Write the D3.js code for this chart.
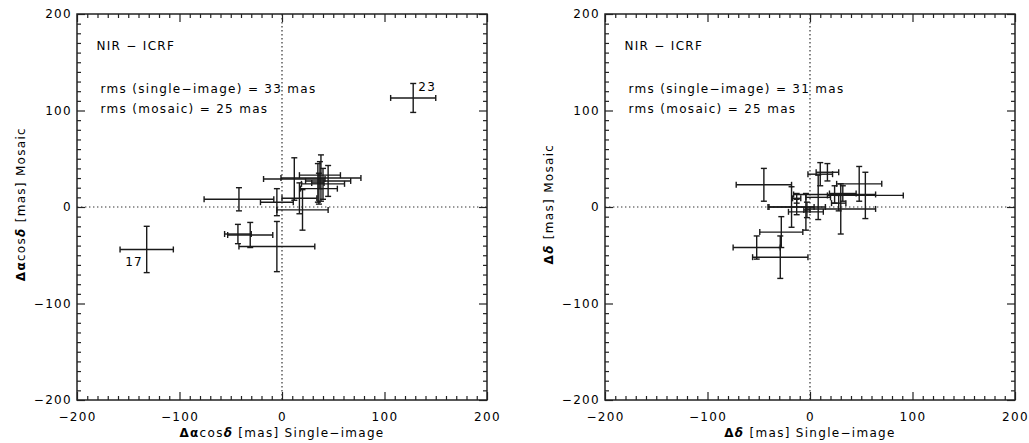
<!DOCTYPE html>
<html>
<head>
<meta charset="utf-8">
<script src="https://cdn.jsdelivr.net/npm/d3@7"></script>
<style>
  body { margin: 0; background: #fff; }
  text { font-family: "DejaVu Sans", sans-serif; font-size: 12px; letter-spacing: 1.3px; fill: #000; }
</style>
</head>
<body>
<div id="chart"></div>
<script>
// left panel: delta alpha cos delta, mosaic vs single-image (mas)
let leftX    = [128, -132, -42, -43, -31,  -5,  20, 17, -5, 12, 38, 37, 45, 40, 36, 35];
let leftY    = [113,  -44,   8, -28, -29, -41,  -3,  9,  5, 29, 30, 33, 27, 24, 19, 25];
let leftXErr = [ 22,   26,  34,  13,  22,  37,  25, 17, 16, 30, 39, 20, 22, 21, 18,  6];
let leftYErr = [ 15,   24,  12,  10,  13,  26,  21, 16, 14, 22, 24, 14, 16, 16, 16, 20];

// right panel: delta delta
let rightX    = [-45, -18, -28, -29, -52, -4, -13, 30, 48, 54, 10, 17,  8, 24, 32, 28, -13, -3];
let rightY    = [ 23,   0, -26, -52, -42, -5,   9, -2, 24, 12, 34, 36, 10, 13, 14,  4,   0, -3];
let rightXErr = [ 27,  22,  21,  27,  23, 17,   4, 34, 22, 37, 12, 11, 12, 40, 13,  7,  28,  3];
let rightYErr = [ 17,  21,  16,  22,  12, 19,   5, 26, 18, 24, 12,  9, 23,  9,  8,  8,   8,  8];

let majorTicks = [-200, -100, 0, 100, 200];
let minorTicks = d3.range(-200, 201, 10).filter(v => v % 100 !== 0);

// labelled sources: [text, x, y]
let leftNotes  = [["23", 133, 120], ["17", -153, -61]];
let rightNotes = [];

let leftText  = ["NIR − ICRF", "rms (single−image) = 33 mas", "rms (mosaic) = 25 mas"];
let rightText = ["NIR − ICRF", "rms (single−image) = 31 mas", "rms (mosaic) = 25 mas"];

let width = 1029, height = 443;
let plotW = 410, plotTop = 14, plotBottom = 400;
let cap = 3;

let svg = d3.select("#chart").append("svg")
  .attr("width", width).attr("height", height);

function addLabel(sel, parts) {
  parts.forEach(p => {
    let t = sel.append("tspan").text(p[0]);
    if (p[1]) t.attr("font-weight", "bold");
    if (p[2]) t.attr("font-style", "italic");
  });
}

function drawPanel(left, xs, ys, xe, ye, texts, notes, xLabel, yLabel) {
  let x = d3.scaleLinear().domain([-200, 200]).range([left, left + plotW]);
  let y = d3.scaleLinear().domain([-200, 200]).range([plotBottom, plotTop]);
  let g = svg.append("g");

  // zero lines
  g.append("line")
    .attr("x1", x(0)).attr("x2", x(0)).attr("y1", y(200)).attr("y2", y(-200))
    .attr("stroke", "#333").attr("stroke-width", 1.2).attr("stroke-dasharray", "1.4,2.6");
  g.append("line")
    .attr("x1", x(-200)).attr("x2", x(200)).attr("y1", y(0)).attr("y2", y(0))
    .attr("stroke", "#333").attr("stroke-width", 1.2).attr("stroke-dasharray", "1.4,2.6");

  // axes: major ticks (labelled on bottom/left) and minor ticks, inward on all sides
  let sides = [
    [() => d3.axisBottom(x), `translate(0,${plotBottom})`, 12],
    [() => d3.axisTop(x), `translate(0,${plotTop})`, 0],
    [() => d3.axisLeft(y), `translate(${left},0)`, 5],
    [() => d3.axisRight(y), `translate(${left + plotW},0)`, 0]
  ];
  sides.forEach(s => {
    let major = s[0]().tickValues(majorTicks).tickSizeInner(-8).tickSizeOuter(0);
    if (s[2]) major.tickPadding(s[2]); else major.tickFormat("");
    let ga = g.append("g").attr("transform", s[1]).style("color", "#222").call(major);
    ga.select(".domain").remove();
    ga.selectAll(".tick line").attr("stroke-width", 1.2);

    let minor = s[0]().tickValues(minorTicks).tickSizeInner(-4).tickSizeOuter(0).tickFormat("");
    let gm = g.append("g").attr("transform", s[1]).style("color", "#222").call(minor);
    gm.select(".domain").remove();
    gm.selectAll(".tick line").attr("stroke-width", 1.2);
  });

  g.append("rect")
    .attr("x", x(-200)).attr("y", y(200))
    .attr("width", x(200) - x(-200)).attr("height", y(-200) - y(200))
    .attr("fill", "none").attr("stroke", "#222").attr("stroke-width", 1.5);

  // error bars
  let bars = g.append("g").attr("stroke", "#1a1a1a").attr("stroke-width", 1.4);
  xs.forEach((v, i) => {
    let cx = x(v), cy = y(ys[i]);
    let x0 = x(v - xe[i]), x1 = x(v + xe[i]);
    let y0 = y(ys[i] - ye[i]), y1 = y(ys[i] + ye[i]);
    let b = bars.append("g");
    b.append("line").attr("x1", x0).attr("x2", x1).attr("y1", cy).attr("y2", cy);
    b.append("line").attr("x1", x0).attr("x2", x0).attr("y1", cy - cap).attr("y2", cy + cap);
    b.append("line").attr("x1", x1).attr("x2", x1).attr("y1", cy - cap).attr("y2", cy + cap);
    b.append("line").attr("x1", cx).attr("x2", cx).attr("y1", y0).attr("y2", y1);
    b.append("line").attr("x1", cx - cap).attr("x2", cx + cap).attr("y1", y0).attr("y2", y0);
    b.append("line").attr("x1", cx - cap).attr("x2", cx + cap).attr("y1", y1).attr("y2", y1);
  });

  // annotations
  g.append("text").attr("x", x(-181)).attr("y", y(163)).text(texts[0]);
  g.append("text").attr("x", x(-177)).attr("y", y(118)).text(texts[1]);
  g.append("text").attr("x", x(-177)).attr("y", y(97)).text(texts[2]);
  notes.forEach(n => {
    g.append("text").attr("x", x(n[1])).attr("y", y(n[2])).text(n[0]);
  });

  // axis titles
  let xt = g.append("text").attr("x", x(0)).attr("y", 437).attr("text-anchor", "middle");
  addLabel(xt, xLabel);
  let yt = g.append("text").attr("text-anchor", "middle")
    .attr("transform", `translate(${left - 52},${y(3)}) rotate(-90)`);
  addLabel(yt, yLabel);
}

drawPanel(77, leftX, leftY, leftXErr, leftYErr, leftText, leftNotes,
  [["Δα", 1], ["cos"], ["δ", 1, 1], [" [mas] Single−image"]],
  [["Δα", 1], ["cos"], ["δ", 1, 1], [" [mas] Mosaic"]]);

drawPanel(605, rightX, rightY, rightXErr, rightYErr, rightText, rightNotes,
  [["Δ", 1], ["δ", 1, 1], [" [mas] Single−image"]],
  [["Δ", 1], ["δ", 1, 1], [" [mas] Mosaic"]]);
</script>
</body>
</html>
